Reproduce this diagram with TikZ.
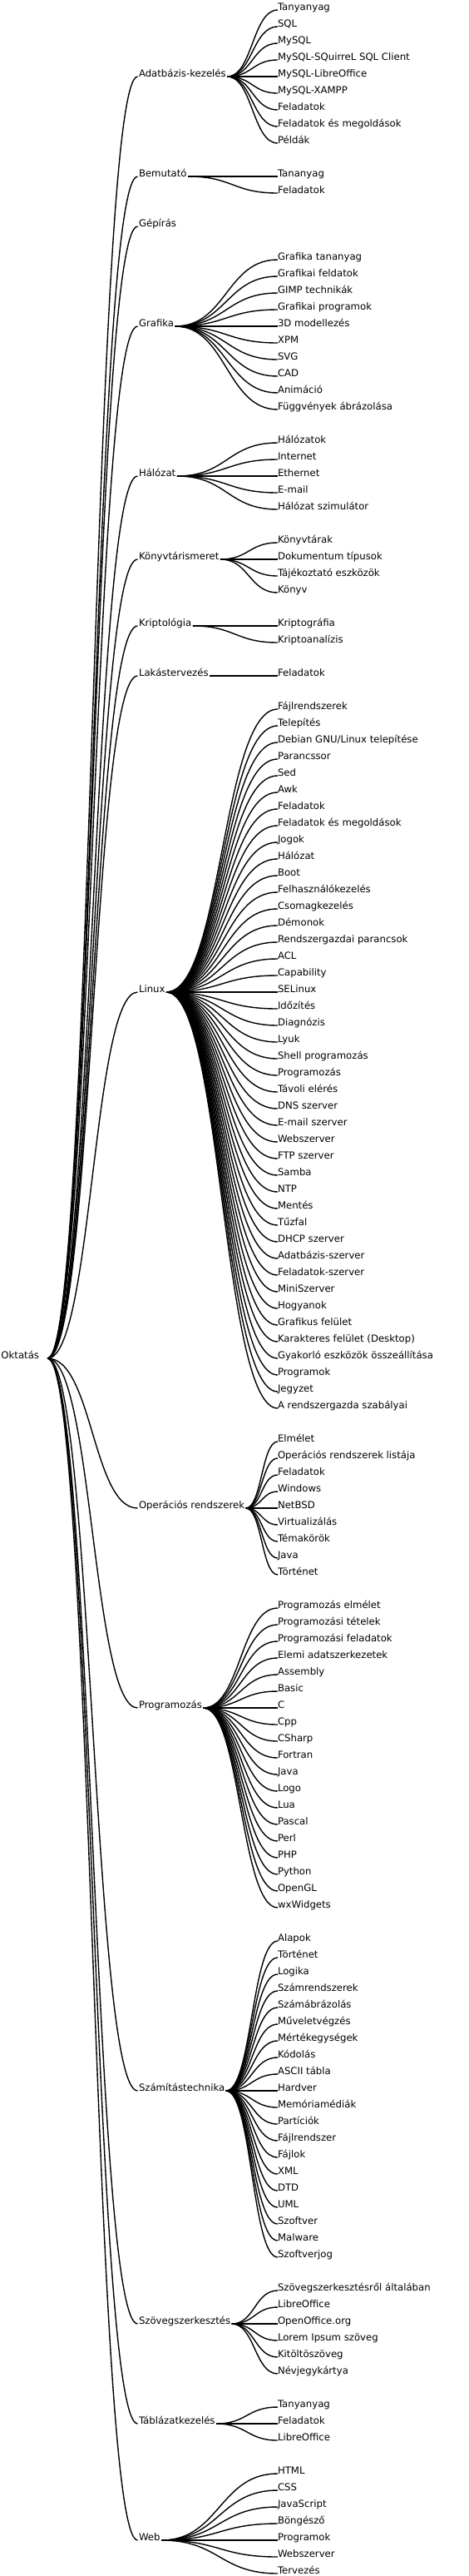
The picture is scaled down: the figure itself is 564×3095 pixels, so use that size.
\documentclass[tikz,border=0pt]{standalone}
\usepackage{fontspec}
\setmainfont{DejaVu Sans}
\usetikzlibrary{calc}

\tikzset{
  twig/.style={to path={let \p1=(\tikztostart), \p2=(\tikztotarget) in
      .. controls ({(\x1+\x2)/2},\y1) and ({(\x1+\x2)/2},\y2) .. (\tikztotarget)}},
  link/.style={line width=1.4pt},
  topic/.style={anchor=base west, inner sep=0pt, outer xsep=1.5pt, font=\fontsize{11.7}{14}\selectfont},
  leaf/.style={topic, outer xsep=0pt},
}

% leaves of one topic: name, first y, labels
\newcommand\sprout[3]{%
  \foreach \t [count=\i] in {#3} {
    \node[leaf] (#1\i) at (334,{#2+20*(\i-1)}) {\t};
    \draw[link] (#1.base east) to[twig] (#1\i.base west);
  }%
}

\begin{document}
\begin{tikzpicture}[x=1pt,y=-1pt]
\useasboundingbox (0,0) rectangle (564,3095);

\node[topic] (root) at (0,1632) {Oktatás};
\coordinate (hub) at ([xshift=8.5pt]root.base east);

\node[topic] (adat) at (165.5,92) {Adatbázis-kezelés};
\node[topic] (bemu) at (165.5,212) {Bemutató};
\node[topic] (gepi) at (165.5,272) {Gépírás};
\node[topic] (graf) at (165.5,392) {Grafika};
\node[topic] (halo) at (165.5,572) {Hálózat};
\node[topic] (konyv) at (165.5,672) {Könyvtárismeret};
\node[topic] (kript) at (165.5,752) {Kriptológia};
\node[topic] (lakas) at (165.5,812) {Lakástervezés};
\node[topic] (linux) at (165.5,1192) {Linux};
\node[topic] (oprend) at (165.5,1812) {Operációs rendszerek};
\node[topic] (prog) at (165.5,2052) {Programozás};
\node[topic] (szamt) at (165.5,2512) {Számítástechnika};
\node[topic] (szoveg) at (165.5,2792) {Szövegszerkesztés};
\node[topic] (tabla) at (165.5,2912) {Táblázatkezelés};
\node[topic] (web) at (165.5,3052) {Web};

\foreach \b in {adat,bemu,gepi,graf,halo,konyv,kript,lakas,linux,oprend,prog,szamt,szoveg,tabla,web}
  \draw[link] (hub) to[twig] (\b.base west);

\sprout{adat}{12}{Tanyanyag,SQL,MySQL,MySQL-SQuirreL SQL Client,MySQL-LibreOffice,MySQL-XAMPP,Feladatok,Feladatok és megoldások,Példák}
\sprout{bemu}{212}{Tananyag,Feladatok}
\sprout{graf}{312}{Grafika tananyag,Grafikai feldatok,GIMP technikák,Grafikai programok,3D modellezés,XPM,SVG,CAD,Animáció,Függvények ábrázolása}
\sprout{halo}{532}{Hálózatok,Internet,Ethernet,E-mail,Hálózat szimulátor}
\sprout{konyv}{652}{Könyvtárak,Dokumentum típusok,Tájékoztató eszközök,Könyv}
\sprout{kript}{752}{Kriptográfia,Kriptoanalízis}
\sprout{lakas}{812}{Feladatok}
\sprout{linux}{852}{Fájlrendszerek,Telepítés,Debian GNU/Linux telepítése,Parancssor,Sed,Awk,Feladatok,Feladatok és megoldások,Jogok,Hálózat,Boot,Felhasználókezelés,Csomagkezelés,Démonok,Rendszergazdai parancsok,ACL,Capability,SELinux,Időzítés,Diagnózis,Lyuk,Shell programozás,Programozás,Távoli elérés,DNS szerver,E-mail szerver,Webszerver,FTP szerver,Samba,NTP,Mentés,Tűzfal,DHCP szerver,Adatbázis-szerver,Feladatok-szerver,MiniSzerver,Hogyanok,Grafikus felület,Karakteres felület (Desktop),Gyakorló eszközök összeállítása,Programok,Jegyzet,A rendszergazda szabályai}
\sprout{oprend}{1732}{Elmélet,Operációs rendszerek listája,Feladatok,Windows,NetBSD,Virtualizálás,Témakörök,Java,Történet}
\sprout{prog}{1932}{Programozás elmélet,Programozási tételek,Programozási feladatok,Elemi adatszerkezetek,Assembly,Basic,C,Cpp,CSharp,Fortran,Java,Logo,Lua,Pascal,Perl,PHP,Python,OpenGL,wxWidgets}
\sprout{szamt}{2332}{Alapok,Történet,Logika,Számrendszerek,Számábrázolás,Műveletvégzés,Mértékegységek,Kódolás,ASCII tábla,Hardver,Memóriamédiák,Partíciók,Fájlrendszer,Fájlok,XML,DTD,UML,Szoftver,Malware,Szoftverjog}
\sprout{szoveg}{2752}{Szövegszerkesztésről általában,LibreOffice,OpenOffice.org,Lorem Ipsum szöveg,Kitöltöszöveg,Névjegykártya}
\sprout{tabla}{2892}{Tanyanyag,Feladatok,LibreOffice}
\sprout{web}{2972}{HTML,CSS,JavaScript,Böngésző,Programok,Webszerver,Tervezés}
\end{tikzpicture}
\end{document}
